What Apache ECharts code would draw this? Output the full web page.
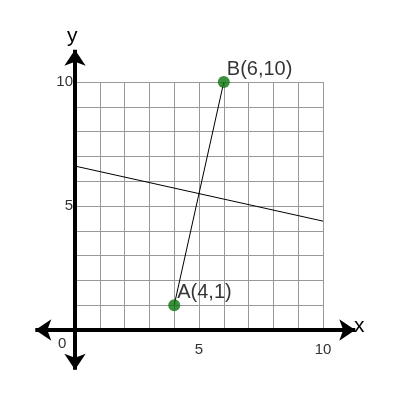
<!DOCTYPE html>
<html><head><meta charset="utf-8">
<script src="https://cdn.jsdelivr.net/npm/echarts@6/dist/echarts.min.js"></script>
<style>body{margin:0}#c{width:400px;height:400px}</style></head>
<body><div id="c"></div>
<script>
const points = [{ name: 'A(4,1)', value: [4, 1] }, { name: 'B(6,10)', value: [6, 10] }]
const segment = [[4, 1], [6, 10]]
const bisector = [[0, 6.61], [10, 4.39]]
const axisLines = [[[-1.6, 0], [11.3, 0]], [[0, -1.6], [0, 11.3]]]
const tickLabels = [5, 10]

const chart = echarts.init(document.getElementById('c'))
const font = 'Liberation Sans, Arial, sans-serif'
chart.setOption({
  animation: false,
  grid: { left: 75, right: 77, top: 82, bottom: 70 },
  xAxis: {
    type: 'value', min: 0, max: 10, interval: 1,
    axisLine: { show: false }, axisTick: { show: false },
    splitLine: { lineStyle: { color: '#999', width: 1 } },
    axisLabel: {
      margin: 12, fontSize: 15, color: '#333', fontFamily: font,
      formatter: v => tickLabels.includes(v) ? String(v) : ''
    }
  },
  yAxis: {
    type: 'value', min: 0, max: 10, interval: 1,
    axisLine: { show: false }, axisTick: { show: false },
    splitLine: { lineStyle: { color: '#999', width: 1 } },
    axisLabel: {
      margin: 2, fontSize: 15, color: '#333', fontFamily: font,
      formatter: v => tickLabels.includes(v) ? String(v) : ''
    }
  },
  graphic: [
    { type: 'text', left: 58, top: 336, style: { text: '0', fontSize: 15, fill: '#333', fontFamily: font } },
    { type: 'text', left: 67, top: 26, style: { text: 'y', fontSize: 21, fill: '#000', fontFamily: font } },
    { type: 'text', left: 354, top: 316, style: { text: 'x', fontSize: 21, fill: '#000', fontFamily: font } }
  ],
  series: [
    {
      type: 'lines', coordinateSystem: 'cartesian2d', clip: false, z: 5,
      symbol: ['arrow', 'arrow'], symbolSize: 16,
      lineStyle: { color: '#000', width: 4, opacity: 1 },
      data: axisLines.map(c => ({ coords: c }))
    },
    { type: 'line', data: bisector, symbol: 'none', lineStyle: { color: '#000', width: 1 } },
    { type: 'line', data: segment, symbol: 'none', lineStyle: { color: '#000', width: 1 } },
    {
      type: 'scatter', data: points, symbolSize: 12, z: 10,
      itemStyle: { color: '#0b730b' },
      label: {
        show: true, position: 'right', offset: [-8, -13], formatter: p => p.name,
        fontSize: 20, color: '#000', fontFamily: font
      }
    }
  ]
})
</script></body></html>
